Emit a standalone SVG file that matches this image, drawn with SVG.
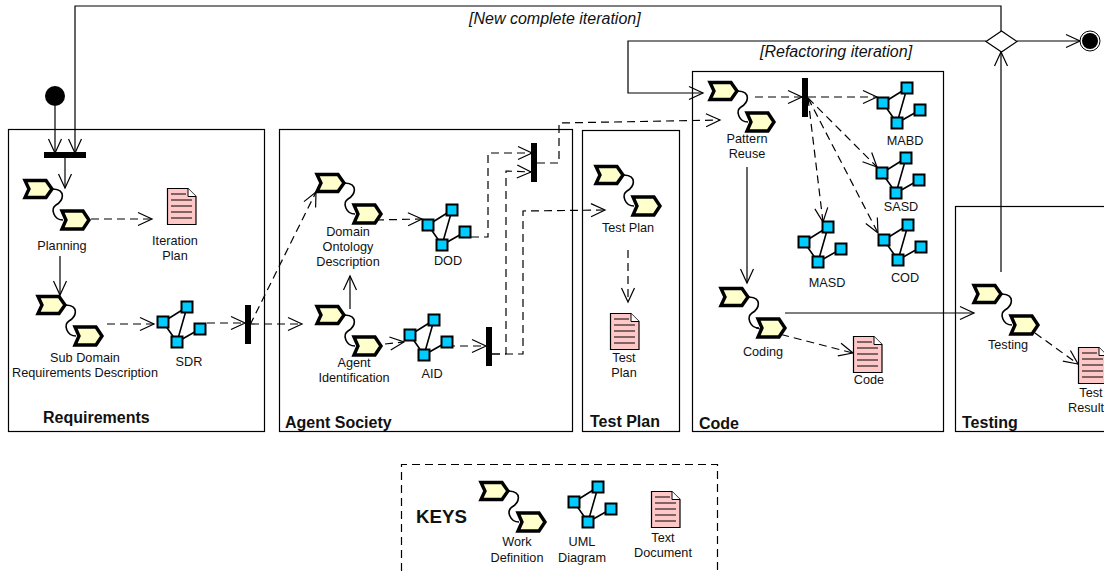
<svg xmlns="http://www.w3.org/2000/svg" width="1104" height="571" viewBox="0 0 1104 571">
<style>
text{font-family:"Liberation Sans",Arial,sans-serif;font-size:12.700px;fill:#111}
.m{text-anchor:middle}
.b{font-weight:bold;font-size:16px}
.i{font-style:italic;font-size:16px}
.box{fill:none;stroke:#000;stroke-width:1.2}
.s{fill:none;stroke:#000;stroke-width:1.2;marker-end:url(#a)}
.d{fill:none;stroke:#000;stroke-width:1.2;stroke-dasharray:8 5;marker-end:url(#a)}
.nd{fill:none;stroke:#000;stroke-width:1.2;stroke-dasharray:8 5}
.bar{fill:#000}
</style>
<defs>
<marker id="a" markerUnits="userSpaceOnUse" markerWidth="20" markerHeight="20" refX="15" refY="8" orient="auto"><path d="M1,1.500L15,8L1,14.500" fill="none" stroke="#000" stroke-width="1.2"/></marker>
<symbol id="wd" width="70" height="54" overflow="visible">
<path d="M30,10C44,11 40,22 33,26C27,30 31,41 40,41" fill="none" stroke="#000" stroke-width="1.6"/>
<path d="M2,1.500H23L29,10L23,18.500H2L6,10Z" fill="#ffffcc" stroke="#000" stroke-width="3.4"/>
<path d="M39,32H60L66,41L60,50H39L43,41Z" fill="#ffffcc" stroke="#000" stroke-width="3.4"/>
</symbol>
<g id="uml">
<path d="M0,0L24,-15M0,0L14,20M24,-15L14,20L37,7" fill="none" stroke="#000" stroke-width="1.6"/>
<g fill="#00ccff" stroke="#000" stroke-width="2">
<rect x="-5.500" y="-5.500" width="11" height="11"/>
<rect x="18.500" y="-20.500" width="11" height="11"/>
<rect x="31.500" y="1.500" width="11" height="11"/>
<rect x="8.500" y="14.500" width="11" height="11"/>
</g>
</g>
<g id="doc">
<path d="M0.500,0.500H21L29,8.500V36.500H0.500Z" fill="#ffc8c8" stroke="#000" stroke-width="1.2"/>
<path d="M21,0.500V8.500H29" fill="#fff" stroke="#000"/>
<path d="M4,6H19M4,12H25M4,18H25M4,24H25M4,30H25" fill="none" stroke="#000"/>
</g>
</defs>
<rect width="1104" height="571" fill="#fff"/>

<g id="containers">
<g id="requirements"><rect class="box" x="8.500" y="129.500" width="256" height="302"/><text class="b" x="43" y="423">Requirements</text></g>
<g id="agent-society"><rect class="box" x="279.500" y="129.500" width="293" height="302"/><text class="b" x="285" y="428">Agent Society</text></g>
<g id="test-plan"><rect class="box" x="582.500" y="130.500" width="97" height="301"/><text class="b" x="590" y="427">Test Plan</text></g>
<g id="code"><rect class="box" x="692.500" y="71.500" width="251" height="360"/><text class="b" x="699" y="429">Code</text></g>
<g id="testing"><rect class="box" x="955.500" y="206.500" width="160" height="225"/><text class="b" x="962" y="428">Testing</text></g>
</g>

<g id="connectors">
<path class="s" d="M55,106V153"/>
<path class="s" d="M1001,31V6H75V153"/>
<path class="s" d="M65,158V188"/>
<path class="s" d="M60,256V295"/>
<path class="d" d="M91,219H152"/>
<path class="d" d="M107,324H154"/>
<path class="d" d="M207,323H245"/>
<path class="d" d="M251,324H302"/>
<path class="d" d="M250,325L316,192"/>
<path class="d" d="M376,220L422,219"/>
<path class="s" d="M350,309V276"/>
<path class="d" d="M385,344L404,342"/>
<path class="d" d="M447,346H486"/>
<path class="d" d="M471,237H488V153H532"/>
<path class="d" d="M492,354H506V171L531,172"/>
<path class="d" d="M492,354H523V211L605,210"/>
<path class="d" d="M537,163H559V123L720,120"/>
<path class="s" d="M986,41H628V93H703"/>
<path class="s" d="M1017,41H1080"/>
<path class="s" d="M1001,272V52"/>
<path class="d" d="M628,250V302"/>
<path class="d" d="M755,97H802"/>
<path class="d" d="M808,97H877"/>
<path class="d" d="M808,98L877,167"/>
<path class="d" d="M808,98L878,233"/>
<path class="d" d="M808,98L823,222"/>
<path class="s" d="M747,167V283"/>
<path class="s" d="M785,313H974"/>
<path class="d" d="M756,328L853,353"/>
<path class="d" d="M1035,333L1078,364"/>
</g>

<g id="start"><circle cx="55" cy="96" r="10" fill="#000"/></g>
<g id="end"><circle cx="1090" cy="41" r="10" fill="#fff" stroke="#000"/><circle cx="1090" cy="41" r="8" fill="#000"/></g>
<g id="decision"><path d="M986,41.500L1001.500,31L1017,41.500L1001.500,52Z" fill="#fff" stroke="#000" stroke-width="1.200"/></g>
<g id="bar-top"><rect class="bar" x="44" y="152" width="42" height="6"/></g>
<g id="bar-sdr"><rect class="bar" x="245" y="305" width="6" height="39"/></g>
<g id="bar-aid"><rect class="bar" x="486" y="327" width="6" height="39"/></g>
<g id="bar-dod"><rect class="bar" x="531" y="143" width="6" height="39"/></g>
<g id="bar-code"><rect class="bar" x="802" y="78" width="6" height="39"/></g>

<g id="planning"><use href="#wd" x="23" y="179"/><text class="m" x="62" y="250">Planning</text></g>
<g id="iteration-plan"><use href="#doc" x="167" y="188"/><text class="m" x="175" y="245">Iteration</text><text class="m" x="175" y="260">Plan</text></g>
<g id="sub-domain"><use href="#wd" x="36" y="295"/><text class="m" x="85" y="362">Sub Domain</text><text class="m" x="85" y="377">Requirements Description</text></g>
<g id="sdr"><use href="#uml" x="163" y="322"/><text class="m" x="189" y="366">SDR</text></g>
<g id="domain-ontology"><use href="#wd" x="315" y="173"/><text class="m" x="348" y="236">Domain</text><text class="m" x="348" y="251">Ontology</text><text class="m" x="348" y="266">Description</text></g>
<g id="dod"><use href="#uml" x="428" y="225"/><text class="m" x="448" y="265">DOD</text></g>
<g id="agent-identification"><use href="#wd" x="315" y="305"/><text class="m" x="354" y="367">Agent</text><text class="m" x="354" y="382">Identification</text></g>
<g id="aid"><use href="#uml" x="410" y="335"/><text class="m" x="432" y="378">AID</text></g>
<g id="test-plan-work"><use href="#wd" x="594" y="165"/><text class="m" x="628" y="232">Test Plan</text></g>
<g id="test-plan-doc"><use href="#doc" x="610" y="313"/><text class="m" x="624" y="362">Test</text><text class="m" x="624" y="377">Plan</text></g>
<g id="pattern-reuse"><use href="#wd" x="708" y="81"/><text class="m" x="747" y="143">Pattern</text><text class="m" x="747" y="158">Reuse</text></g>
<g id="mabd"><use href="#uml" x="883" y="103"/><text class="m" x="905" y="145">MABD</text></g>
<g id="sasd"><use href="#uml" x="882" y="173"/><text class="m" x="901" y="211">SASD</text></g>
<g id="cod"><use href="#uml" x="884" y="240"/><text class="m" x="905" y="282">COD</text></g>
<g id="masd"><use href="#uml" x="804" y="242"/><text class="m" x="827" y="287">MASD</text></g>
<g id="coding"><use href="#wd" x="719" y="287"/><text class="m" x="763" y="356">Coding</text></g>
<g id="code-doc"><use href="#doc" x="853" y="336"/><text class="m" x="869" y="384">Code</text></g>
<g id="testing-work"><use href="#wd" x="972" y="284"/><text class="m" x="1008" y="349">Testing</text></g>
<g id="test-result"><use href="#doc" x="1078" y="347"/><text class="m" x="1091" y="397">Test</text><text class="m" x="1086" y="412">Result</text></g>

<g id="guard-new"><text class="i" x="469" y="24">[New complete iteration]</text></g>
<g id="guard-refactor"><text class="i" x="760" y="57">[Refactoring iteration]</text></g>

<g id="keys">
<path class="nd" d="M401.500,571V464.500H717.500V571"/>
<text x="416" y="523" style="font-size:18.700px;font-weight:bold">KEYS</text>
<use href="#wd" x="479" y="481"/><text class="m" x="517" y="546">Work</text><text class="m" x="517" y="562">Definition</text>
<use href="#uml" x="574" y="502"/><text class="m" x="582" y="546">UML</text><text class="m" x="582" y="562">Diagram</text>
<use href="#doc" x="651" y="491"/><text class="m" x="663" y="542">Text</text><text class="m" x="663" y="557">Document</text>
</g>
</svg>
